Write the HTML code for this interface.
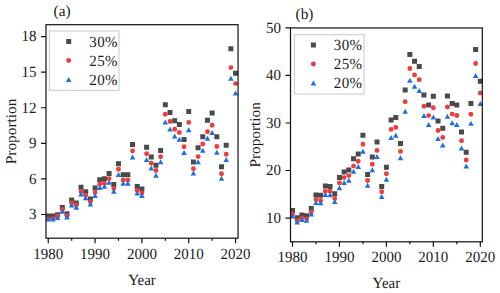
<!DOCTYPE html>
<html><head><meta charset="utf-8"><style>
html,body{margin:0;padding:0;background:#fff;}
body{width:500px;height:293px;overflow:hidden;}
svg{display:block;}
text{font-family:"Liberation Serif",serif;font-size:15px;fill:#1a1a1a;text-rendering:geometricPrecision;}
</style></head><body>
<svg width="500" height="293" viewBox="0 0 500 293">
<rect width="500" height="293" fill="#fff"/>
<path fill="#4a4a4a" d="M45.75 213.5h5v5h-5ZM50.43 213.5h5v5h-5ZM55.12 212.3h5v5h-5ZM59.8 205.1h5v5h-5ZM64.48 211.2h5v5h-5ZM69.16 197.4h5v5h-5ZM73.84 200.5h5v5h-5ZM78.53 184.7h5v5h-5ZM83.21 189.2h5v5h-5ZM87.89 196.4h5v5h-5ZM92.58 185.5h5v5h-5ZM97.26 177.3h5v5h-5ZM101.94 176.2h5v5h-5ZM106.62 171.1h5v5h-5ZM111.31 181.9h5v5h-5ZM115.99 161.2h5v5h-5ZM120.67 172.3h5v5h-5ZM125.35 172.3h5v5h-5ZM130.03 141.9h5v5h-5ZM134.72 183.9h5v5h-5ZM139.4 186.5h5v5h-5ZM144.08 144.7h5v5h-5ZM148.76 154.5h5v5h-5ZM153.45 162.7h5v5h-5ZM158.13 148h5v5h-5ZM162.81 102.3h5v5h-5ZM167.5 110h5v5h-5ZM172.18 118.3h5v5h-5ZM176.86 122.1h5v5h-5ZM181.54 137h5v5h-5ZM186.22 108.9h5v5h-5ZM190.91 159.5h5v5h-5ZM195.59 145.3h5v5h-5ZM200.27 134.3h5v5h-5ZM204.96 117.8h5v5h-5ZM209.64 110.5h5v5h-5ZM214.32 134.3h5v5h-5ZM219 164.3h5v5h-5ZM223.69 142.8h5v5h-5ZM228.37 46.3h5v5h-5ZM233.05 70.8h5v5h-5Z"/><path fill="#ef3b3b" d="M45.8 218.6a2.45 2.45 0 1 0 4.9 0a2.45 2.45 0 1 0 -4.9 0ZM50.48 218.6a2.45 2.45 0 1 0 4.9 0a2.45 2.45 0 1 0 -4.9 0ZM55.16 216a2.45 2.45 0 1 0 4.9 0a2.45 2.45 0 1 0 -4.9 0ZM59.85 209.5a2.45 2.45 0 1 0 4.9 0a2.45 2.45 0 1 0 -4.9 0ZM64.53 215.7a2.45 2.45 0 1 0 4.9 0a2.45 2.45 0 1 0 -4.9 0ZM69.21 202.9a2.45 2.45 0 1 0 4.9 0a2.45 2.45 0 1 0 -4.9 0ZM73.89 204.9a2.45 2.45 0 1 0 4.9 0a2.45 2.45 0 1 0 -4.9 0ZM78.58 191.6a2.45 2.45 0 1 0 4.9 0a2.45 2.45 0 1 0 -4.9 0ZM83.26 195.3a2.45 2.45 0 1 0 4.9 0a2.45 2.45 0 1 0 -4.9 0ZM87.94 201.8a2.45 2.45 0 1 0 4.9 0a2.45 2.45 0 1 0 -4.9 0ZM92.62 192.5a2.45 2.45 0 1 0 4.9 0a2.45 2.45 0 1 0 -4.9 0ZM97.31 184.3a2.45 2.45 0 1 0 4.9 0a2.45 2.45 0 1 0 -4.9 0ZM101.99 183.2a2.45 2.45 0 1 0 4.9 0a2.45 2.45 0 1 0 -4.9 0ZM106.67 178.6a2.45 2.45 0 1 0 4.9 0a2.45 2.45 0 1 0 -4.9 0ZM111.36 188.4a2.45 2.45 0 1 0 4.9 0a2.45 2.45 0 1 0 -4.9 0ZM116.04 169.3a2.45 2.45 0 1 0 4.9 0a2.45 2.45 0 1 0 -4.9 0ZM120.72 180.1a2.45 2.45 0 1 0 4.9 0a2.45 2.45 0 1 0 -4.9 0ZM125.4 180.1a2.45 2.45 0 1 0 4.9 0a2.45 2.45 0 1 0 -4.9 0ZM130.09 151a2.45 2.45 0 1 0 4.9 0a2.45 2.45 0 1 0 -4.9 0ZM134.77 190.4a2.45 2.45 0 1 0 4.9 0a2.45 2.45 0 1 0 -4.9 0ZM139.45 193a2.45 2.45 0 1 0 4.9 0a2.45 2.45 0 1 0 -4.9 0ZM144.13 153.8a2.45 2.45 0 1 0 4.9 0a2.45 2.45 0 1 0 -4.9 0ZM148.81 163.2a2.45 2.45 0 1 0 4.9 0a2.45 2.45 0 1 0 -4.9 0ZM153.5 170.5a2.45 2.45 0 1 0 4.9 0a2.45 2.45 0 1 0 -4.9 0ZM158.18 156.7a2.45 2.45 0 1 0 4.9 0a2.45 2.45 0 1 0 -4.9 0ZM162.86 114.3a2.45 2.45 0 1 0 4.9 0a2.45 2.45 0 1 0 -4.9 0ZM167.55 121.5a2.45 2.45 0 1 0 4.9 0a2.45 2.45 0 1 0 -4.9 0ZM172.23 129.2a2.45 2.45 0 1 0 4.9 0a2.45 2.45 0 1 0 -4.9 0ZM176.91 132.5a2.45 2.45 0 1 0 4.9 0a2.45 2.45 0 1 0 -4.9 0ZM181.59 146.8a2.45 2.45 0 1 0 4.9 0a2.45 2.45 0 1 0 -4.9 0ZM186.28 122.4a2.45 2.45 0 1 0 4.9 0a2.45 2.45 0 1 0 -4.9 0ZM190.96 168.7a2.45 2.45 0 1 0 4.9 0a2.45 2.45 0 1 0 -4.9 0ZM195.64 156.6a2.45 2.45 0 1 0 4.9 0a2.45 2.45 0 1 0 -4.9 0ZM200.32 144a2.45 2.45 0 1 0 4.9 0a2.45 2.45 0 1 0 -4.9 0ZM205.01 131.7a2.45 2.45 0 1 0 4.9 0a2.45 2.45 0 1 0 -4.9 0ZM209.69 125.2a2.45 2.45 0 1 0 4.9 0a2.45 2.45 0 1 0 -4.9 0ZM214.37 146.5a2.45 2.45 0 1 0 4.9 0a2.45 2.45 0 1 0 -4.9 0ZM219.05 173.8a2.45 2.45 0 1 0 4.9 0a2.45 2.45 0 1 0 -4.9 0ZM223.74 154.3a2.45 2.45 0 1 0 4.9 0a2.45 2.45 0 1 0 -4.9 0ZM228.42 67.6a2.45 2.45 0 1 0 4.9 0a2.45 2.45 0 1 0 -4.9 0ZM233.1 83.6a2.45 2.45 0 1 0 4.9 0a2.45 2.45 0 1 0 -4.9 0Z"/><path fill="#1f6fe3" d="M48.25 216.6L51.05 221.6L45.45 221.6ZM52.93 216.6L55.73 221.6L50.13 221.6ZM57.62 215L60.41 220L54.82 220ZM62.3 208.7L65.1 213.7L59.5 213.7ZM66.98 214.5L69.78 219.5L64.18 219.5ZM71.66 202.5L74.46 207.5L68.86 207.5ZM76.34 204.8L79.14 209.8L73.55 209.8ZM81.03 191.5L83.83 196.5L78.23 196.5ZM85.71 195.3L88.51 200.3L82.91 200.3ZM90.39 201.5L93.19 206.5L87.59 206.5ZM95.08 193L97.88 198L92.28 198ZM99.76 184.9L102.56 189.9L96.96 189.9ZM104.44 183.8L107.24 188.8L101.64 188.8ZM109.12 179.7L111.92 184.7L106.32 184.7ZM113.81 188.7L116.61 193.7L111.01 193.7ZM118.49 172L121.29 177L115.69 177ZM123.17 180.8L125.97 185.8L120.37 185.8ZM127.85 180.8L130.65 185.8L125.05 185.8ZM132.53 154.5L135.34 159.5L129.73 159.5ZM137.22 190.5L140.02 195.5L134.42 195.5ZM141.9 193.1L144.7 198.1L139.1 198.1ZM146.58 157L149.38 162L143.78 162ZM151.26 165.5L154.06 170.5L148.46 170.5ZM155.95 172.7L158.75 177.7L153.15 177.7ZM160.63 159.3L163.43 164.3L157.83 164.3ZM165.31 119.6L168.11 124.6L162.51 124.6ZM170 126.4L172.8 131.4L167.19 131.4ZM174.68 133.5L177.48 138.5L171.88 138.5ZM179.36 136.7L182.16 141.7L176.56 141.7ZM184.04 150L186.84 155L181.24 155ZM188.72 127.2L191.53 132.2L185.92 132.2ZM193.41 170.6L196.21 175.6L190.61 175.6ZM198.09 159.3L200.89 164.3L195.29 164.3ZM202.77 147.7L205.57 152.7L199.97 152.7ZM207.46 135.8L210.26 140.8L204.66 140.8ZM212.14 130L214.94 135L209.34 135ZM216.82 149.7L219.62 154.7L214.02 154.7ZM221.5 175.7L224.3 180.7L218.7 180.7ZM226.19 157L228.99 162L223.38 162ZM230.87 75.8L233.67 80.8L228.07 80.8ZM235.55 90.4L238.35 95.4L232.75 95.4Z"/><rect x="49.4" y="31" width="69.6" height="59.3" fill="none" stroke="#c8c8c8" stroke-width="1"/><rect x="66.2" y="39" width="5" height="5" fill="#4a4a4a"/><text transform="translate(89.3 46.7) scale(1 1.04)" letter-spacing="0.4">30%</text><circle cx="68.7" cy="60.5" r="2.45" fill="#ef3b3b"/><text transform="translate(89.3 65.7) scale(1 1.04)" letter-spacing="0.4">25%</text><path d="M68.7 77L71.5 82L65.9 82Z" fill="#1f6fe3"/><text transform="translate(89.3 84.7) scale(1 1.04)" letter-spacing="0.4">20%</text><rect x="46" y="24.7" width="192.05" height="213.5" fill="none" stroke="#111" stroke-width="1.2"/><path d="M48.25 238.2V243.2M71.66 238.2V240.7M95.08 238.2V243.2M118.49 238.2V240.7M141.9 238.2V243.2M165.31 238.2V240.7M188.72 238.2V243.2M212.14 238.2V240.7M235.55 238.2V243.2M46 214.48H41M46 178.89H41M46 143.31H41M46 107.73H41M46 72.14H41M46 36.56H41" stroke="#111" stroke-width="1.2" fill="none"/><text transform="translate(48.25 258.6) scale(1 1.04)" text-anchor="middle">1980</text><text transform="translate(95.08 258.6) scale(1 1.04)" text-anchor="middle">1990</text><text transform="translate(141.9 258.6) scale(1 1.04)" text-anchor="middle">2000</text><text transform="translate(188.72 258.6) scale(1 1.04)" text-anchor="middle">2010</text><text transform="translate(235.55 258.6) scale(1 1.04)" text-anchor="middle">2020</text><text transform="translate(36.4 219.38) scale(1 1.04)" text-anchor="end">3</text><text transform="translate(36.4 183.79) scale(1 1.04)" text-anchor="end">6</text><text transform="translate(36.4 148.21) scale(1 1.04)" text-anchor="end">9</text><text transform="translate(36.4 112.63) scale(1 1.04)" text-anchor="end">12</text><text transform="translate(36.4 77.04) scale(1 1.04)" text-anchor="end">15</text><text transform="translate(36.4 41.46) scale(1 1.04)" text-anchor="end">18</text><text transform="translate(142.03 284.5) scale(1 1.04)" text-anchor="middle">Year</text><text transform="translate(15.8 131.45) rotate(-90) scale(1.02 1.0)" text-anchor="middle">Proportion</text><text transform="translate(53.6 16.4) scale(1.02 1.03)" style="font-size:15px">(a)</text>
<path fill="#4a4a4a" d="M290 208.1h5v5h-5ZM294.69 215.2h5v5h-5ZM299.39 212.6h5v5h-5ZM304.08 213.2h5v5h-5ZM308.78 206h5v5h-5ZM313.48 192.5h5v5h-5ZM318.17 192.7h5v5h-5ZM322.87 183.5h5v5h-5ZM327.56 184.1h5v5h-5ZM332.25 191.3h5v5h-5ZM336.95 174.9h5v5h-5ZM341.64 169.5h5v5h-5ZM346.34 167.5h5v5h-5ZM351.04 156.2h5v5h-5ZM355.73 151.4h5v5h-5ZM360.43 132.8h5v5h-5ZM365.12 171.9h5v5h-5ZM369.81 154.6h5v5h-5ZM374.51 139.4h5v5h-5ZM379.21 184h5v5h-5ZM383.9 164.8h5v5h-5ZM388.6 117.4h5v5h-5ZM393.29 114.9h5v5h-5ZM397.99 141h5v5h-5ZM402.68 87.5h5v5h-5ZM407.38 52h5v5h-5ZM412.07 58.8h5v5h-5ZM416.76 64h5v5h-5ZM421.46 92.5h5v5h-5ZM426.15 102.6h5v5h-5ZM430.85 93.8h5v5h-5ZM435.55 118.6h5v5h-5ZM440.24 125.8h5v5h-5ZM444.94 93.4h5v5h-5ZM449.63 101h5v5h-5ZM454.33 102.5h5v5h-5ZM459.02 129.6h5v5h-5ZM463.72 149.8h5v5h-5ZM468.41 101.1h5v5h-5ZM473.11 46.9h5v5h-5ZM477.8 78.7h5v5h-5Z"/><path fill="#ef3b3b" d="M290.05 214a2.45 2.45 0 1 0 4.9 0a2.45 2.45 0 1 0 -4.9 0ZM294.75 220.7a2.45 2.45 0 1 0 4.9 0a2.45 2.45 0 1 0 -4.9 0ZM299.44 218.1a2.45 2.45 0 1 0 4.9 0a2.45 2.45 0 1 0 -4.9 0ZM304.13 218.9a2.45 2.45 0 1 0 4.9 0a2.45 2.45 0 1 0 -4.9 0ZM308.83 211.9a2.45 2.45 0 1 0 4.9 0a2.45 2.45 0 1 0 -4.9 0ZM313.53 199.5a2.45 2.45 0 1 0 4.9 0a2.45 2.45 0 1 0 -4.9 0ZM318.22 200.5a2.45 2.45 0 1 0 4.9 0a2.45 2.45 0 1 0 -4.9 0ZM322.92 191.3a2.45 2.45 0 1 0 4.9 0a2.45 2.45 0 1 0 -4.9 0ZM327.61 191.3a2.45 2.45 0 1 0 4.9 0a2.45 2.45 0 1 0 -4.9 0ZM332.31 198.5a2.45 2.45 0 1 0 4.9 0a2.45 2.45 0 1 0 -4.9 0ZM337 183a2.45 2.45 0 1 0 4.9 0a2.45 2.45 0 1 0 -4.9 0ZM341.69 177.6a2.45 2.45 0 1 0 4.9 0a2.45 2.45 0 1 0 -4.9 0ZM346.39 175.6a2.45 2.45 0 1 0 4.9 0a2.45 2.45 0 1 0 -4.9 0ZM351.09 166.1a2.45 2.45 0 1 0 4.9 0a2.45 2.45 0 1 0 -4.9 0ZM355.78 161.3a2.45 2.45 0 1 0 4.9 0a2.45 2.45 0 1 0 -4.9 0ZM360.48 144.3a2.45 2.45 0 1 0 4.9 0a2.45 2.45 0 1 0 -4.9 0ZM365.17 180.5a2.45 2.45 0 1 0 4.9 0a2.45 2.45 0 1 0 -4.9 0ZM369.87 164.3a2.45 2.45 0 1 0 4.9 0a2.45 2.45 0 1 0 -4.9 0ZM374.56 150.4a2.45 2.45 0 1 0 4.9 0a2.45 2.45 0 1 0 -4.9 0ZM379.26 191.8a2.45 2.45 0 1 0 4.9 0a2.45 2.45 0 1 0 -4.9 0ZM383.95 173.8a2.45 2.45 0 1 0 4.9 0a2.45 2.45 0 1 0 -4.9 0ZM388.65 129.4a2.45 2.45 0 1 0 4.9 0a2.45 2.45 0 1 0 -4.9 0ZM393.34 127.4a2.45 2.45 0 1 0 4.9 0a2.45 2.45 0 1 0 -4.9 0ZM398.04 151.4a2.45 2.45 0 1 0 4.9 0a2.45 2.45 0 1 0 -4.9 0ZM402.73 101.7a2.45 2.45 0 1 0 4.9 0a2.45 2.45 0 1 0 -4.9 0ZM407.43 68.5a2.45 2.45 0 1 0 4.9 0a2.45 2.45 0 1 0 -4.9 0ZM412.12 74.9a2.45 2.45 0 1 0 4.9 0a2.45 2.45 0 1 0 -4.9 0ZM416.81 79.7a2.45 2.45 0 1 0 4.9 0a2.45 2.45 0 1 0 -4.9 0ZM421.51 106.2a2.45 2.45 0 1 0 4.9 0a2.45 2.45 0 1 0 -4.9 0ZM426.2 115.6a2.45 2.45 0 1 0 4.9 0a2.45 2.45 0 1 0 -4.9 0ZM430.9 107.7a2.45 2.45 0 1 0 4.9 0a2.45 2.45 0 1 0 -4.9 0ZM435.6 130.5a2.45 2.45 0 1 0 4.9 0a2.45 2.45 0 1 0 -4.9 0ZM440.29 137.4a2.45 2.45 0 1 0 4.9 0a2.45 2.45 0 1 0 -4.9 0ZM444.99 107a2.45 2.45 0 1 0 4.9 0a2.45 2.45 0 1 0 -4.9 0ZM449.68 114.1a2.45 2.45 0 1 0 4.9 0a2.45 2.45 0 1 0 -4.9 0ZM454.38 115.5a2.45 2.45 0 1 0 4.9 0a2.45 2.45 0 1 0 -4.9 0ZM459.07 140.8a2.45 2.45 0 1 0 4.9 0a2.45 2.45 0 1 0 -4.9 0ZM463.77 160a2.45 2.45 0 1 0 4.9 0a2.45 2.45 0 1 0 -4.9 0ZM468.46 114.3a2.45 2.45 0 1 0 4.9 0a2.45 2.45 0 1 0 -4.9 0ZM473.16 63.5a2.45 2.45 0 1 0 4.9 0a2.45 2.45 0 1 0 -4.9 0ZM477.85 93a2.45 2.45 0 1 0 4.9 0a2.45 2.45 0 1 0 -4.9 0Z"/><path fill="#1f6fe3" d="M292.5 213.4L295.3 218.4L289.7 218.4ZM297.19 219.5L300 224.5L294.39 224.5ZM301.89 217.1L304.69 222.1L299.09 222.1ZM306.58 217.8L309.38 222.8L303.78 222.8ZM311.28 211.5L314.08 216.5L308.48 216.5ZM315.98 200.1L318.78 205.1L313.18 205.1ZM320.67 200.2L323.47 205.2L317.87 205.2ZM325.37 192L328.17 197L322.56 197ZM330.06 192.2L332.86 197.2L327.26 197.2ZM334.75 199.1L337.56 204.1L331.95 204.1ZM339.45 185.2L342.25 190.2L336.65 190.2ZM344.14 179.9L346.94 184.9L341.34 184.9ZM348.84 177.7L351.64 182.7L346.04 182.7ZM353.54 168.8L356.34 173.8L350.74 173.8ZM358.23 164.1L361.03 169.1L355.43 169.1ZM362.93 148.7L365.73 153.7L360.12 153.7ZM367.62 182.8L370.42 187.8L364.82 187.8ZM372.31 167.3L375.12 172.3L369.51 172.3ZM377.01 154.1L379.81 159.1L374.21 159.1ZM381.71 193.9L384.51 198.9L378.91 198.9ZM386.4 176.7L389.2 181.7L383.6 181.7ZM391.1 134.9L393.9 139.9L388.3 139.9ZM395.79 132.8L398.59 137.8L392.99 137.8ZM400.49 155.2L403.29 160.2L397.69 160.2ZM405.18 108.7L407.98 113.7L402.38 113.7ZM409.88 77.8L412.68 82.8L407.07 82.8ZM414.57 83.7L417.37 88.7L411.77 88.7ZM419.26 88.1L422.06 93.1L416.46 93.1ZM423.96 113.1L426.76 118.1L421.16 118.1ZM428.65 121.9L431.45 126.9L425.85 126.9ZM433.35 114.5L436.15 119.5L430.55 119.5ZM438.05 135.9L440.85 140.9L435.25 140.9ZM442.74 142.5L445.54 147.5L439.94 147.5ZM447.44 113.8L450.24 118.8L444.63 118.8ZM452.13 120.2L454.93 125.2L449.33 125.2ZM456.83 121.9L459.63 126.9L454.03 126.9ZM461.52 145.4L464.32 150.4L458.72 150.4ZM466.22 163.5L469.02 168.5L463.42 168.5ZM470.91 120.7L473.71 125.7L468.11 125.7ZM475.61 73.1L478.41 78.1L472.81 78.1ZM480.3 101L483.1 106L477.5 106Z"/><rect x="294.4" y="34.7" width="69.6" height="59.3" fill="none" stroke="#c8c8c8" stroke-width="1"/><rect x="310.9" y="42.5" width="5" height="5" fill="#4a4a4a"/><text transform="translate(333.8 50.2) scale(1 1.04)" letter-spacing="0.4">30%</text><circle cx="313.4" cy="64" r="2.45" fill="#ef3b3b"/><text transform="translate(333.8 69.2) scale(1 1.04)" letter-spacing="0.4">25%</text><path d="M313.4 80.5L316.2 85.5L310.6 85.5Z" fill="#1f6fe3"/><text transform="translate(333.8 88.2) scale(1 1.04)" letter-spacing="0.4">20%</text><rect x="290.5" y="27.95" width="191.8" height="213.85" fill="none" stroke="#111" stroke-width="1.2"/><path d="M292.5 241.8V246.8M315.98 241.8V244.3M339.45 241.8V246.8M362.93 241.8V244.3M386.4 241.8V246.8M409.88 241.8V244.3M433.35 241.8V246.8M456.83 241.8V244.3M480.3 241.8V246.8M290.5 218.04H285.5M290.5 170.52H285.5M290.5 122.99H285.5M290.5 75.47H285.5M290.5 27.95H285.5" stroke="#111" stroke-width="1.2" fill="none"/><text transform="translate(292.5 262.2) scale(1 1.04)" text-anchor="middle">1980</text><text transform="translate(339.45 262.2) scale(1 1.04)" text-anchor="middle">1990</text><text transform="translate(386.4 262.2) scale(1 1.04)" text-anchor="middle">2000</text><text transform="translate(433.35 262.2) scale(1 1.04)" text-anchor="middle">2010</text><text transform="translate(480.3 262.2) scale(1 1.04)" text-anchor="middle">2020</text><text transform="translate(280.9 222.94) scale(1 1.04)" text-anchor="end">10</text><text transform="translate(280.9 175.42) scale(1 1.04)" text-anchor="end">20</text><text transform="translate(280.9 127.89) scale(1 1.04)" text-anchor="end">30</text><text transform="translate(280.9 80.37) scale(1 1.04)" text-anchor="end">40</text><text transform="translate(280.9 32.85) scale(1 1.04)" text-anchor="end">50</text><text transform="translate(386.4 288.1) scale(1 1.04)" text-anchor="middle">Year</text><text transform="translate(260.3 134.88) rotate(-90) scale(1.02 1.0)" text-anchor="middle">Proportion</text><text transform="translate(295.6 18.8) scale(1.02 1.03)" style="font-size:15px">(b)</text>
</svg>
</body></html>
